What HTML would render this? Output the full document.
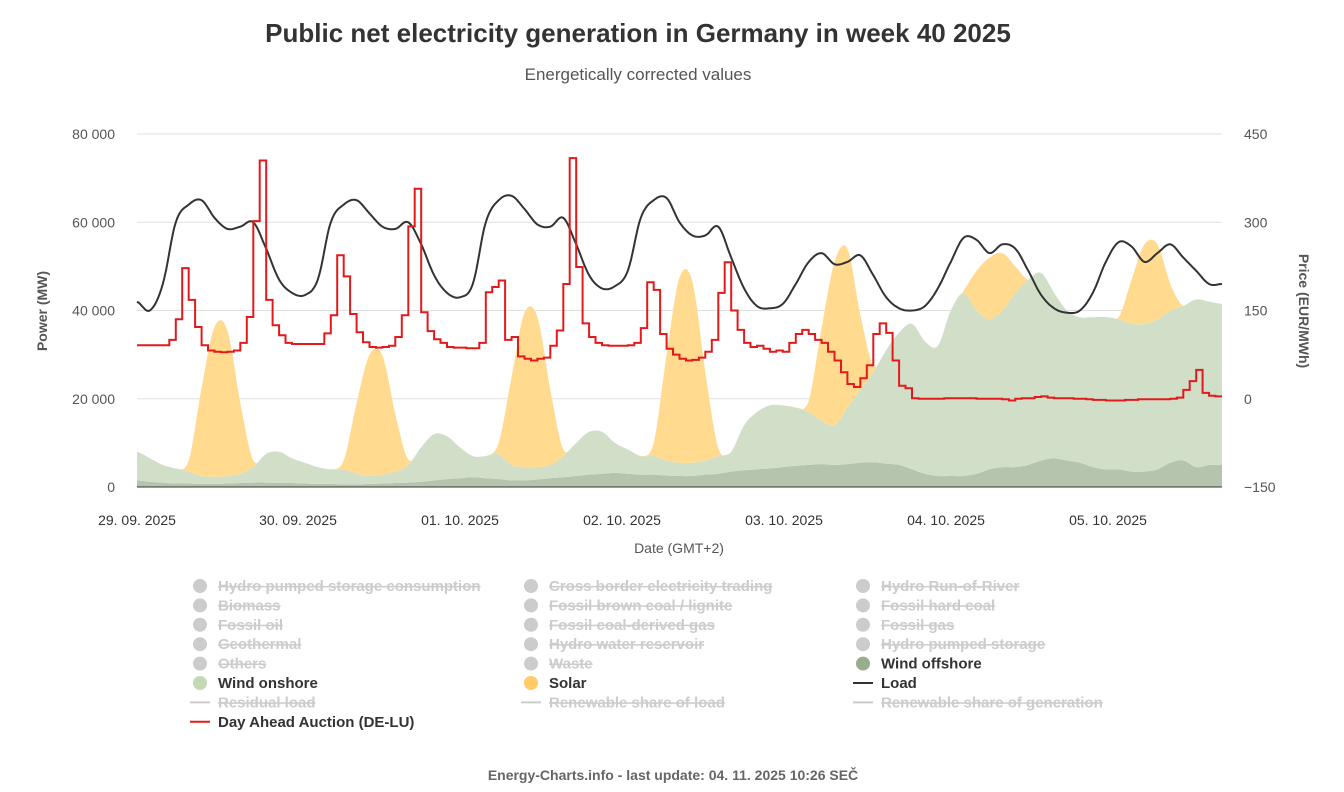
<!DOCTYPE html>
<html><head><meta charset="utf-8"><style>
body{margin:0;background:#fff;font-family:"Liberation Sans",sans-serif;}
svg text{font-family:"Liberation Sans",sans-serif;}
</style></head><body>
<svg id="chart" width="1344" height="787" xmlns="http://www.w3.org/2000/svg">
<text x="638" y="42" text-anchor="middle" font-size="26" font-weight="bold" fill="#333">Public net electricity generation in Germany in week 40 2025</text>
<text x="638" y="80" text-anchor="middle" font-size="17" fill="#555">Energetically corrected values</text>
<g id="grid"></g>
<g id="areas"></g>
<g id="lines"></g>
<g id="axes"></g>
<text transform="translate(47,311) rotate(-90)" text-anchor="middle" font-size="14" font-weight="bold" fill="#555">Power (MW)</text>
<text transform="translate(1299,311) rotate(90)" text-anchor="middle" font-size="14" font-weight="bold" fill="#555">Price (EUR/MWh)</text>
<text x="679" y="553" text-anchor="middle" font-size="14" fill="#555">Date (GMT+2)</text>
<g id="legend"></g>
<text x="673" y="780" text-anchor="middle" font-size="14" font-weight="bold" fill="#666">Energy-Charts.info - last update: 04. 11. 2025 10:26 SEČ</text>
</svg>
<script>
// 2-hour resolution, 0..168h (85 points)
const windOffshore=[1500,1200,1000,800,800,700,700,800,900,1000,1000,900,
900,800,700,700,600,600,700,800,900,1000,1200,1500,
1800,2000,2200,2000,1800,1500,1500,1700,2000,2200,2500,2800,
3000,3200,3000,2800,2800,2600,2500,2500,2800,3000,3500,3800,
4000,4200,4500,4800,5000,5200,5000,5200,5500,5600,5300,5000,
4000,3000,2500,2500,2500,3000,4000,4500,4500,5000,6000,6500,
6000,5500,4500,4000,4000,3500,3500,4000,5500,6000,4500,5000,5000];
const windOnshore=[6500,5300,4000,3400,2700,1800,1600,1700,2100,3500,6500,7100,
5600,4700,3800,3300,3400,2400,1800,2000,2600,4000,7800,10500,
9700,7000,4800,5000,5700,3500,3000,2800,3000,4800,7500,9700,
9500,6800,5500,4200,4200,3400,3000,3000,3200,4000,4500,10200,
13000,14300,14000,13200,12000,9800,9000,12800,16500,20400,25700,30000,
33000,30000,29500,37500,41500,37000,34000,35500,39500,42000,42500,37500,
34000,33000,34000,34500,34000,33500,33500,34000,34500,35000,38000,37000,36500];
const solar=[0,0,0,0,2500,20000,34000,33000,16000,1500,0,0,
0,0,0,0,2000,16000,27500,27000,13000,1200,0,0,
0,0,0,0,2500,20000,35000,34000,17000,1500,0,0,
0,0,0,0,3000,24000,42000,41000,20000,1800,0,0,
0,0,0,0,2500,21000,37000,36000,17000,1500,0,0,
0,0,0,0,500,9000,14000,13000,6000,0,0,0,
0,0,0,0,500,10000,18000,17000,6000,0,0,0,0];
const load=[42000,40000,46000,60000,64000,65000,61000,58500,59000,60000,54000,47000,
44000,43500,47000,60000,64000,65000,62000,59000,58500,60000,55000,48000,
44000,43000,46000,60000,65000,66000,63000,59500,59000,61000,55000,48000,
45000,45500,49000,61000,65000,65500,60000,57000,57000,59000,52000,45000,
41000,40500,41500,46000,51000,53000,50500,51000,52500,48000,43000,40500,
40000,41000,45000,51000,56500,56000,53000,55000,54000,49000,43500,40500,
39500,40000,44000,51000,55500,54500,51000,53000,55000,52000,49000,46000,46000];
// hourly price EUR/MWh, 168 hours + end
const price=[91,91,91,91,91,100,135,222,168,122,91,82,80,79,80,82,95,139,302,405,168,125,108,95,
93,93,93,93,93,111,142,244,208,144,113,96,88,87,88,90,105,142,293,357,147,115,101,95,
88,87,87,86,86,95,181,190,201,100,105,72,68,65,68,70,90,116,195,409,224,128,105,95,
91,90,90,90,91,95,120,198,185,110,85,75,68,65,66,70,80,100,180,232,150,117,95,88,
90,85,80,82,80,95,110,117,110,100,95,80,65,45,25,20,35,57,110,128,112,65,22,18,
1,0,0,0,0,1,1,1,1,1,0,0,0,0,-1,-3,0,1,1,3,4,2,1,1,
1,0,0,-1,-2,-2,-3,-3,-3,-2,-2,-1,-1,-1,-1,-1,0,2,15,30,49,10,5,4,3];
const leftTicks=[0,20000,40000,60000,80000];
const leftTickLabels=["0","20 000","40 000","60 000","80 000"];
const rightTicks=[-150,0,150,300,450];
const dateLabels=["29. 09. 2025","30. 09. 2025","01. 10. 2025","02. 10. 2025","03. 10. 2025","04. 10. 2025","05. 10. 2025"];

const X0=137,X1=1222,Y0=487,Y1=134;
const xS=h=>X0+h*(X1-X0)/168;
const yL=v=>Y0-v*(Y0-Y1)/80000;
const yR=p=>Y0-(p+150)*(Y0-Y1)/600;
const NS="http://www.w3.org/2000/svg";
function mk(tag,parent,attrs){const e=document.createElementNS(NS,tag);for(const k in attrs)e.setAttribute(k,attrs[k]);parent.appendChild(e);return e;}
const grid=document.getElementById('grid'),areas=document.getElementById('areas'),lines=document.getElementById('lines'),axes=document.getElementById('axes'),legend=document.getElementById('legend');

// Catmull-Rom resample of a 2h series to SUB points per interval (rendering only)
const SUB=8;
function smooth(arr,clampMin){
  const out=[];const n=arr.length;
  for(let i=0;i<n-1;i++){
    const p0=arr[Math.max(0,i-1)],p1=arr[i],p2=arr[i+1],p3=arr[Math.min(n-1,i+2)];
    for(let k=0;k<SUB;k++){
      const t=k/SUB,t2=t*t,t3=t2*t;
      let v=0.5*((2*p1)+(-p0+p2)*t+(2*p0-5*p1+4*p2-p3)*t2+(-p0+3*p1-3*p2+p3)*t3);
      if(clampMin!==undefined)v=Math.max(clampMin,v);
      if(p1===0&&p2===0)v=0;
      out.push(v);
    }
  }
  out.push(arr[n-1]);return out;
}
const hOf=j=>j*2/SUB;

leftTicks.forEach((v,i)=>{
  const y=yL(v);
  if(v>0){const g=mk('line',grid,{x1:X0,x2:X1,y1:y,y2:y,stroke:'#e0e0e0','stroke-width':1});
  
  }
  const t=mk('text',axes,{x:115,y:y+5,'text-anchor':'end','font-size':14,fill:'#555'});t.textContent=leftTickLabels[i];
  
  
});
rightTicks.forEach(p=>{
  const t=mk('text',axes,{x:1244,y:yR(p)+5,'font-size':14,fill:'#555'});t.textContent=(p<0?'\u2212'+(-p):String(p));
  
  
});
const dl=[137,298,460,622,784,946,1108];
dateLabels.forEach((s,i)=>{
  const t=mk('text',axes,{x:dl[i],y:525,'text-anchor':'middle','font-size':14,fill:'#333'});t.textContent=s;
  
  
});
const ax=mk('line',axes,{x1:X0,x2:X1,y1:Y0,y2:Y0,stroke:'#333','stroke-width':1});



function areaPath(lo,hi){
  let d='';
  for(let i=0;i<hi.length;i++)d+=(i?'L':'M')+xS(hOf(i)).toFixed(1)+','+yL(hi[i]).toFixed(1);
  for(let i=lo.length-1;i>=0;i--)d+='L'+xS(hOf(i)).toFixed(1)+','+yL(lo[i]).toFixed(1);
  return d+'Z';
}
const off=smooth(windOffshore,0),on=smooth(windOnshore,0),so=smooth(solar,0);
const zero=off.map(()=>0);
const s1=off.slice();
const s2=s1.map((v,i)=>v+on[i]);
const s3=s2.map((v,i)=>v+so[i]);
const a1=mk('path',areas,{d:areaPath(zero,s1),fill:'#b4c4ad'});


const a2=mk('path',areas,{d:areaPath(s1,s2),fill:'#d1dfc8'});


const a3=mk('path',areas,{d:areaPath(s2,s3),fill:'#ffda8f'});



const lsm=smooth(load);
let ld='';lsm.forEach((v,i)=>{ld+=(i?'L':'M')+xS(hOf(i)).toFixed(1)+','+yL(v).toFixed(1);});
const l1=mk('path',lines,{d:ld,fill:'none',stroke:'#333','stroke-width':2});


let pd='';
for(let i=0;i<price.length-1;i++){pd+=(i?'L':'M')+xS(i).toFixed(1)+','+yR(price[i]).toFixed(1)+'L'+xS(i+1).toFixed(1)+','+yR(price[i]).toFixed(1);}
const l2=mk('path',lines,{d:pd,fill:'none',stroke:'#e31a1c','stroke-width':2});



const legItems=[
["Hydro pumped storage consumption",0,0,'dot',false,'#ccc'],["Cross border electricity trading",1,0,'dot',false,'#ccc'],["Hydro Run-of-River",2,0,'dot',false,'#ccc'],
["Biomass",0,1,'dot',false,'#ccc'],["Fossil brown coal / lignite",1,1,'dot',false,'#ccc'],["Fossil hard coal",2,1,'dot',false,'#ccc'],
["Fossil oil",0,2,'dot',false,'#ccc'],["Fossil coal-derived gas",1,2,'dot',false,'#ccc'],["Fossil gas",2,2,'dot',false,'#ccc'],
["Geothermal",0,3,'dot',false,'#ccc'],["Hydro water reservoir",1,3,'dot',false,'#ccc'],["Hydro pumped storage",2,3,'dot',false,'#ccc'],
["Others",0,4,'dot',false,'#ccc'],["Waste",1,4,'dot',false,'#ccc'],["Wind offshore",2,4,'dot',true,'#97ad8d'],
["Wind onshore",0,5,'dot',true,'#c3d8b5'],["Solar",1,5,'dot',true,'#ffcc66'],["Load",2,5,'line',true,'#333'],
["Residual load",0,6,'line',false,'#ccc'],["Renewable share of load",1,6,'line',false,'#ccc'],["Renewable share of generation",2,6,'line',false,'#ccc'],
["Day Ahead Auction (DE-LU)",0,7,'line',true,'#e31a1c']];
const colX=[200,531,863];
legItems.forEach(it=>{
  const [name,c,r,type,on2,col]=it;
  const x=colX[c],y=586+r*19.4;
  const g=mk('g',legend,{});
  
  
  if(type==='dot')mk('circle',g,{cx:x,cy:y,r:7,fill:col});
  else mk('line',g,{x1:x-10,x2:x+10,y1:y,y2:y,stroke:col,'stroke-width':2});
  const t=mk('text',g,{x:x+18,y:y+5,'font-size':15,'font-weight':'bold',fill:on2?'#333':'#ccc','text-decoration':on2?'none':'line-through'});
  t.textContent=name;
});
</script>
</body></html>
